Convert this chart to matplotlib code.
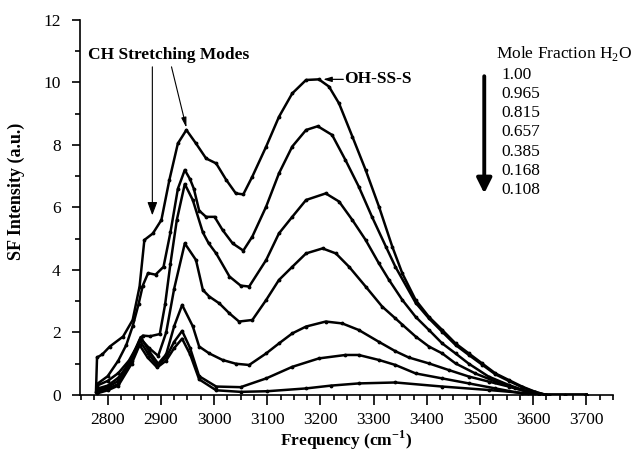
import matplotlib
matplotlib.use("Agg")
import matplotlib.pyplot as plt
import matplotlib.ticker as ticker

plt.rcParams['font.family'] = ['Liberation Serif', 'DejaVu Serif']
plt.rcParams['mathtext.fontset'] = 'custom'
plt.rcParams['mathtext.rm'] = 'Liberation Serif'
plt.rcParams['mathtext.bf'] = 'Liberation Serif:bold'

# Mole fraction of water for each spectrum (top to bottom)
fracciones = ['1.00', '0.965', '0.815', '0.657', '0.385', '0.168', '0.108']

# Spectra: frequency (cm-1) and SF intensity (a.u.)
f1 = [2778, 2780, 2790, 2804, 2829, 2847, 2860, 2869, 2885, 2901, 2916, 2932, 2948, 2966, 2985,
      3004, 3023, 3041, 3055, 3072, 3098, 3122, 3147, 3173, 3197, 3216, 3235, 3260, 3285, 3310,
      3335, 3354, 3379, 3404, 3429, 3454, 3479, 3504, 3529, 3554, 3579, 3604, 3625, 3660, 3700]
i1 = [0.1, 1.2, 1.3, 1.55, 1.87, 2.4, 3.47, 4.96, 5.17, 5.6, 6.88, 8.05, 8.48, 8.05, 7.57,
      7.41, 6.88, 6.45, 6.42, 6.99, 7.95, 8.9, 9.65, 10.08, 10.1, 9.87, 9.33, 8.27, 7.2, 6.03,
      4.75, 3.89, 3.04, 2.5, 2.08, 1.65, 1.33, 1.01, 0.69, 0.48, 0.27, 0.1, 0.0, 0.0, 0.0]

f2 = [2780, 2800, 2820, 2835, 2847, 2858, 2866, 2876, 2890, 2905, 2918, 2932, 2945, 2955, 2962,
      2972, 2985, 3001, 3016, 3035, 3055, 3072, 3098, 3122, 3147, 3173, 3195, 3222, 3247, 3272,
      3297, 3323, 3341, 3379, 3404, 3429, 3454, 3479, 3504, 3529, 3554, 3579, 3604, 3625, 3700]
i2 = [0.35, 0.6, 1.1, 1.6, 2.2, 2.9, 3.5, 3.9, 3.85, 4.1, 5.2, 6.6, 7.2, 6.9, 6.6,
      5.9, 5.7, 5.7, 5.28, 4.85, 4.62, 5.07, 6.03, 7.09, 7.95, 8.48, 8.6, 8.32, 7.52, 6.67,
      5.7, 4.75, 4.1, 2.95, 2.45, 2.02, 1.6, 1.28, 0.97, 0.66, 0.45, 0.25, 0.09, 0.0, 0.0]

f3 = [2780, 2800, 2820, 2840, 2855, 2866, 2880, 2898, 2908, 2918, 2930, 2945, 2960, 2979, 2990,
      3004, 3029, 3050, 3066, 3098, 3122, 3147, 3173, 3210, 3235, 3260, 3285, 3310, 3329, 3354,
      3379, 3404, 3429, 3454, 3479, 3516, 3554, 3591, 3620, 3700]
i3 = [0.3, 0.45, 0.7, 1.1, 1.55, 1.9, 1.88, 1.95, 2.9, 4.2, 5.6, 6.75, 6.24, 5.2, 4.85,
      4.53, 3.79, 3.5, 3.47, 4.32, 5.17, 5.7, 6.24, 6.45, 6.19, 5.6, 4.96, 4.21, 3.68, 3.04,
      2.5, 2.08, 1.65, 1.33, 1.0, 0.59, 0.32, 0.1, 0.0, 0.0]

f4 = [2780, 2800, 2820, 2840, 2852, 2862, 2878, 2895, 2910, 2925, 2945, 2966, 2979, 2991, 3010,
      3029, 3047, 3072, 3098, 3122, 3147, 3173, 3204, 3229, 3254, 3285, 3316, 3341, 3354, 3379,
      3404, 3429, 3454, 3491, 3529, 3566, 3604, 3630, 3700]
i4 = [0.2, 0.3, 0.55, 1.0, 1.4, 1.8, 1.5, 1.25, 2.0, 3.4, 4.85, 4.32, 3.36, 3.15, 2.93,
      2.61, 2.35, 2.4, 3.04, 3.68, 4.1, 4.53, 4.69, 4.53, 4.1, 3.47, 2.83, 2.45, 2.25, 1.87,
      1.55, 1.33, 1.01, 0.69, 0.43, 0.21, 0.05, 0.0, 0.0]

f5 = [2780, 2800, 2820, 2845, 2862, 2878, 2895, 2910, 2925, 2940, 2960, 2972, 2991, 3016, 3041,
      3066, 3098, 3122, 3147, 3173, 3210, 3241, 3272, 3310, 3341, 3366, 3404, 3441, 3479, 3516,
      3554, 3591, 3625, 3700]
i5 = [0.15, 0.25, 0.45, 1.2, 1.85, 1.4, 1.0, 1.3, 2.2, 2.88, 2.2, 1.55, 1.33, 1.12, 1.0,
      0.96, 1.33, 1.65, 1.97, 2.19, 2.35, 2.29, 2.08, 1.7, 1.4, 1.2, 1.01, 0.8, 0.59, 0.43,
      0.27, 0.1, 0.0, 0.0]

f6 = [2780, 2800, 2820, 2845, 2860, 2875, 2893, 2910, 2925, 2940, 2955, 2972, 3004, 3050, 3098,
      3147, 3197, 3247, 3272, 3310, 3341, 3379, 3429, 3479, 3529, 3579, 3610, 3700]
i6 = [0.1, 0.2, 0.35, 1.1, 1.75, 1.35, 0.95, 1.2, 1.7, 2.05, 1.5, 0.6, 0.27, 0.25, 0.53,
      0.9, 1.17, 1.28, 1.28, 1.12, 0.96, 0.69, 0.53, 0.37, 0.21, 0.05, 0.0, 0.0]

f7 = [2780, 2800, 2820, 2845, 2860, 2875, 2893, 2910, 2925, 2940, 2955, 2972, 3004, 3050, 3100,
      3173, 3220, 3272, 3341, 3429, 3516, 3591, 3620, 3700]
i7 = [0.05, 0.15, 0.3, 1.0, 1.6, 1.2, 0.88, 1.1, 1.5, 1.8, 1.3, 0.5, 0.15, 0.1, 0.12,
      0.21, 0.3, 0.37, 0.4, 0.27, 0.16, 0.05, 0.0, 0.0]

espectros = [(f1, i1), (f2, i2), (f3, i3), (f4, i4), (f5, i5), (f6, i6), (f7, i7)]

# ─── GRAFICAR ────────────────────────────────────────────────────────────────

fig = plt.figure(figsize=(6.36, 4.54), dpi=100)
ax = fig.add_axes([0.1258, 0.13, 0.838, 0.826])

for f, i in espectros:
    ax.plot(f, i, color='black', lw=1.8, marker='.', ms=3.5, zorder=3)

ax.set_xlim(2748, 3750)
ax.set_ylim(0, 12)
ax.spines['top'].set_visible(False)
ax.spines['right'].set_visible(False)
for s in ('left', 'bottom'):
    ax.spines[s].set_linewidth(1.2)

ax.xaxis.set_major_locator(ticker.MultipleLocator(100))
ax.xaxis.set_minor_locator(ticker.MultipleLocator(25))
ax.yaxis.set_major_locator(ticker.MultipleLocator(2))
ax.yaxis.set_minor_locator(ticker.MultipleLocator(1))
ax.tick_params(which='major', direction='out', width=1.2, labelsize=12.5)
ax.tick_params(axis='x', which='major', length=7, pad=5)
ax.tick_params(axis='x', which='minor', length=3.5, width=1.2)
ax.tick_params(axis='y', which='major', length=6, pad=8)
ax.tick_params(axis='y', which='minor', length=3.5, width=1.2)
ax.set_xticks(range(2800, 3701, 100))

ax.set_xlabel(r'Frequency (cm$^{\mathbf{-1}}$)', fontsize=12.5, fontweight='bold', labelpad=1)
ax.set_ylabel('SF Intensity (a.u.)', fontsize=13, fontweight='bold')
ax.yaxis.set_label_coords(-0.103, 0.544)

# Anotaciones
ax.text(2763, 10.88, 'CH Stretching Modes', fontsize=12.5, fontweight='bold', va='center')
ax.annotate('', xy=(2884, 5.75), xytext=(2884, 10.5),
            arrowprops=dict(arrowstyle='-|>,head_length=0.8,head_width=0.3', color='black',
                            lw=0.8, shrinkA=0, shrinkB=0))
ax.annotate('', xy=(2948, 8.55), xytext=(2920, 10.5),
            arrowprops=dict(arrowstyle='-|>,head_length=0.6,head_width=0.15', color='black',
                            lw=0.8, shrinkA=0, shrinkB=0))

ax.text(3244, 10.1, 'OH-SS-S', fontsize=12.5, fontweight='bold', va='center', ha='left')
ax.annotate('', xy=(3205, 10.1), xytext=(3243, 10.1),
            arrowprops=dict(arrowstyle='-|>,head_length=0.5,head_width=0.15', color='black',
                            lw=0.9, shrinkA=0, shrinkB=0))

ax.text(3530, 10.93, r'Mole Fraction H$_2$O', fontsize=12.5, va='center', ha='left', clip_on=False)
for k, fr in enumerate(fracciones):
    ax.text(3540, 10.25 - k * 0.615, fr, fontsize=12.5, va='center', ha='left')
ax.annotate('', xy=(3508, 6.45), xytext=(3508, 10.2),
            arrowprops=dict(arrowstyle='-|>,head_length=0.9,head_width=0.45', color='black',
                            lw=2.8, shrinkA=0, shrinkB=0))

fig.savefig('out.png', dpi=100)
